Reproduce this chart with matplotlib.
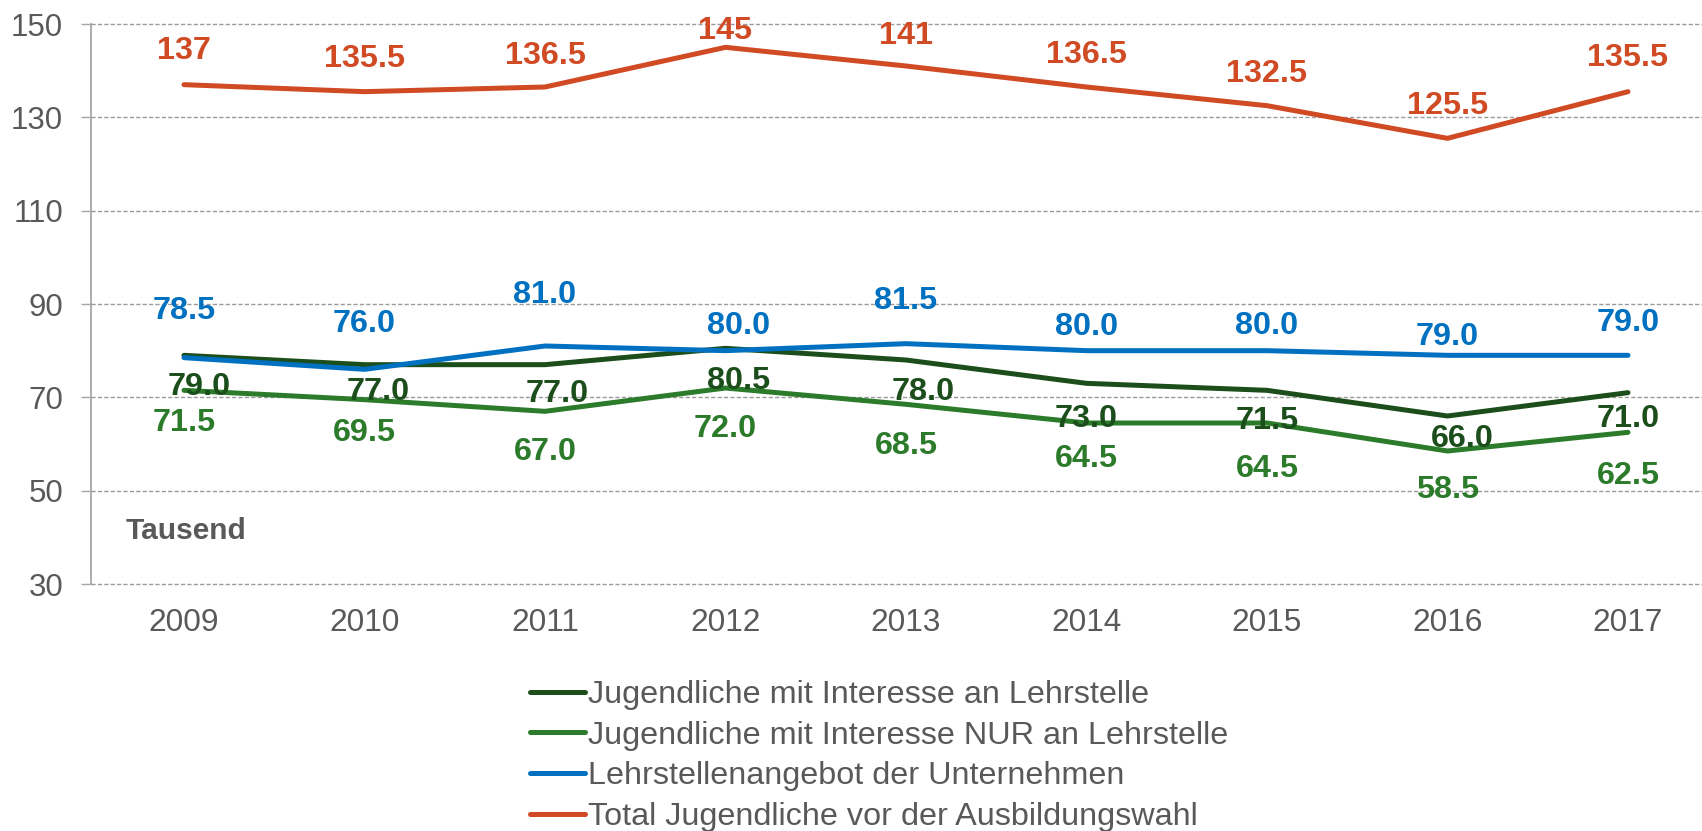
import matplotlib
matplotlib.use("Agg")
import matplotlib.pyplot as plt

years = ["2009", "2010", "2011", "2012", "2013", "2014", "2015", "2016", "2017"]
interesse = [79.0, 77.0, 77.0, 80.5, 78.0, 73.0, 71.5, 66.0, 71.0]
nur_lehre = [71.5, 69.5, 67.0, 72.0, 68.5, 64.5, 64.5, 58.5, 62.5]
angebot = [78.5, 76.0, 81.0, 80.0, 81.5, 80.0, 80.0, 79.0, 79.0]
total = [137, 135.5, 136.5, 145, 141, 136.5, 132.5, 125.5, 135.5]

names = ["Jugendliche mit Interesse an Lehrstelle",
         "Jugendliche mit Interesse NUR an Lehrstelle",
         "Lehrstellenangebot der Unternehmen",
         "Total Jugendliche vor der Ausbildungswahl"]
yticks = [30, 50, 70, 90, 110, 130, 150]

# label placement (pixel offsets of label centre from point; +dy = downwards)
off_interesse = ([15, 14, 12, 13, 17, 0, 0, 15, 0], [28, 24, 26, 29, 28, 32, 27, 19, 23])
off_nur = ([0] * 9, [29, 30, 37, 37, 38, 32, 42, 35, 40])
off_angebot = ([0, 0, 0, 13, 0, 0, 0, 0, 0], [-50, -49, -55, -28, -46, -27, -28, -22, -36])
off_total = ([0] * 9, [-37, -36, -35, -20, -34, -36, -35, -36, -37])

c_dg = "#1C4E1C"
c_g = "#2B7B2B"
c_b = "#0070C0"
c_o = "#D04A24"
gray = "#595959"

plt.rcParams["font.family"] = ["Liberation Sans", "DejaVu Sans"]

fig = plt.figure(figsize=(17.02, 8.31), dpi=100)
ax = fig.add_axes([91 / 1702, 1 - 584 / 831, 1 - 91 / 1702, (584 - 24) / 831])

x = list(range(len(years)))
series = [(interesse, c_dg, off_interesse, "{:.1f}"),
          (nur_lehre, c_g, off_nur, "{:.1f}"),
          (angebot, c_b, off_angebot, "{:.1f}"),
          (total, c_o, off_total, None)]
lines = []
for (vals, col, off, fmt), nm in zip(series, names):
    ln, = ax.plot(x, vals, color=col, lw=3.6, solid_capstyle="round",
                  solid_joinstyle="round", label=nm, zorder=3)
    lines.append(ln)

ax.set_xlim(-0.5152, 8.41)
ax.set_ylim(30, 150)
ax.set_yticks(yticks)
ax.set_xticks(x)
ax.set_xticklabels(years)

em = 23.3 * 100 / 72
for vals, col, off, fmt in series:
    dxs, dys = off
    for i, v in enumerate(vals):
        if fmt is None:
            txt = str(int(v)) if float(v).is_integer() else "{:.1f}".format(v)
        else:
            txt = fmt.format(v)
        ax.annotate(txt, (i, v), xytext=(dxs[i], -dys[i] - 0.36 * em),
                    textcoords="offset pixels", ha="center", va="baseline",
                    fontsize=23.3, fontweight="bold", color=col, zorder=4,
                    annotation_clip=False)

ax.grid(axis="y", color="#9A9A9A", lw=1.0, linestyle=(0, (3, 1.6)), zorder=0)
for gl in ax.get_ygridlines():
    gl.set_clip_on(False)
ax.set_axisbelow(True)
for s in ["top", "right", "bottom"]:
    ax.spines[s].set_visible(False)
ax.spines["left"].set_color("#A6A6A6")
ax.spines["left"].set_linewidth(1.3)
ax.tick_params(axis="y", direction="out", length=7, width=1, color="#A6A6A6",
               labelsize=22.5, labelcolor=gray, pad=13)
ax.tick_params(axis="x", length=0, labelsize=22.8, labelcolor=gray, pad=17.5)

ax.text(126 / 1702, 1 - 531 / 831, "Tausend", transform=fig.transFigure,
        fontsize=21.5, fontweight="bold", color=gray, ha="left", va="center")

leg = fig.legend(handles=lines, loc="center left",
                 bbox_to_anchor=(530 / 1702, 1 - 756 / 831),
                 frameon=False, fontsize=23.3, handlelength=1.7,
                 handletextpad=0.09, labelspacing=0.33, borderpad=0,
                 borderaxespad=0)
for t in leg.get_texts():
    t.set_color(gray)

fig.savefig("out.png", dpi=100)
